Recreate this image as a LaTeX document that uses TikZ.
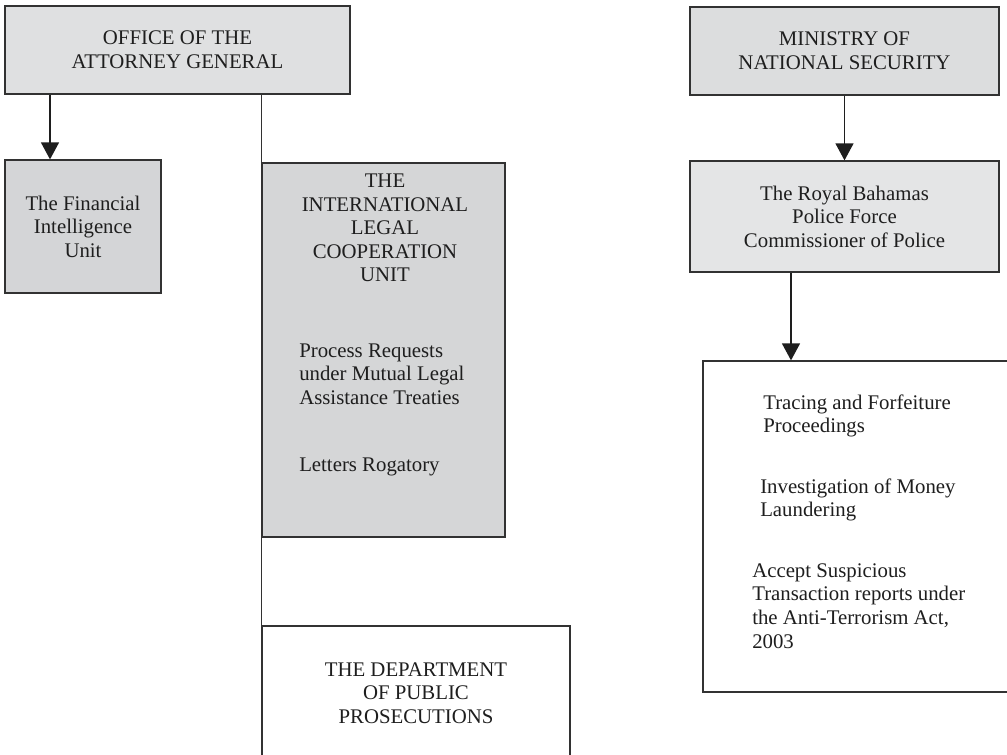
\documentclass[tikz,border=0pt]{standalone}
\usepackage{fontspec}
\setmainfont{Liberation Serif}
\usetikzlibrary{arrows.meta}
\definecolor{agfill}{RGB}{223,224,225}
\definecolor{fiufill}{RGB}{212,213,215}
\definecolor{ilcufill}{RGB}{213,214,215}
\definecolor{minfill}{RGB}{220,221,222}
\definecolor{polfill}{RGB}{228,229,230}
\definecolor{edge}{RGB}{50,50,50}
\definecolor{ink}{RGB}{30,30,30}
\tikzset{
  orgbox/.style={draw=edge, line width=0.95pt, rectangle, inner sep=0pt, align=center, text=ink,
    font=\fontsize{15.6pt}{17.7pt}\selectfont},
  txt/.style={inner sep=0pt, text=ink, font=\fontsize{15.6pt}{17.7pt}\selectfont},
  link/.style={draw=edge, line width=1pt},
  arr/.style={draw=ink, line width=0.95pt, -{Triangle[width=13.5pt,length=12.75pt]}},
}
\begin{document}
\begin{tikzpicture}[x=0.75pt,y=-0.75pt]
\useasboundingbox (0,0) rectangle (1007,754);
\clip (0,0) rectangle (1007,754);
\fill[white] (0,0) rectangle (1007,754);
% left side
\node[orgbox, fill=agfill, minimum width=258.75pt, minimum height=66pt] (ag) at (177.5,50) {OFFICE OF THE\\ATTORNEY GENERAL};
\node[orgbox, fill=fiufill, minimum width=117pt, minimum height=99.75pt] (fiu) at (83,226.5) {The Financial\\Intelligence\\Unit};
\node[orgbox, fill=ilcufill, minimum width=182.25pt, minimum height=280.5pt] (ilcu) at (383.5,350) {};
\node[txt, align=center] (ilcut) at (385,228) {THE\\INTERNATIONAL\\LEGAL\\COOPERATION\\UNIT};
\node[txt, align=left, anchor=west] (ilcup) at (299,374) {Process Requests\\under Mutual Legal\\Assistance Treaties};
\node[txt, anchor=west] (ilcul) at (299,467) {Letters Rogatory};
\node[orgbox, fill=white, minimum width=231pt, minimum height=108pt] (dpp) at (416,698) {};
\node[txt, align=center] (dppt) at (416,693) {THE DEPARTMENT\\OF PUBLIC\\PROSECUTIONS};
% right side
\node[orgbox, fill=minfill, minimum width=231.75pt, minimum height=66pt] (min) at (844.5,51) {MINISTRY OF\\NATIONAL SECURITY};
\node[orgbox, fill=polfill, minimum width=231.75pt, minimum height=83.25pt] (pol) at (844.5,216.5) {The Royal Bahamas\\Police Force\\Commissioner of Police};
\node[orgbox, fill=white, minimum width=237.75pt, minimum height=248.25pt] (act) at (861.5,526.5) {};
\node[txt, align=left, anchor=west] (act1) at (763,416) {Tracing and Forfeiture\\Proceedings};
\node[txt, align=left, anchor=west] (act2) at (760,500) {Investigation of Money\\Laundering};
\node[txt, align=left, anchor=west] (act3) at (752,606) {Accept Suspicious\\Transaction reports under\\the Anti-Terrorism Act,\\2003};
% connectors
\draw[arr] (ag.south -| 50,0) -- (fiu.north -| 50,0);
\draw[link] (ag.south -| ilcu.west) -- (ilcu.north west);
\draw[link] (ilcu.south west) -- (dpp.north west);
\draw[arr] (min.south) -- (pol.north);
\draw[arr] (pol.south -| 791,0) -- (act.north -| 791,0);
\end{tikzpicture}
\end{document}
